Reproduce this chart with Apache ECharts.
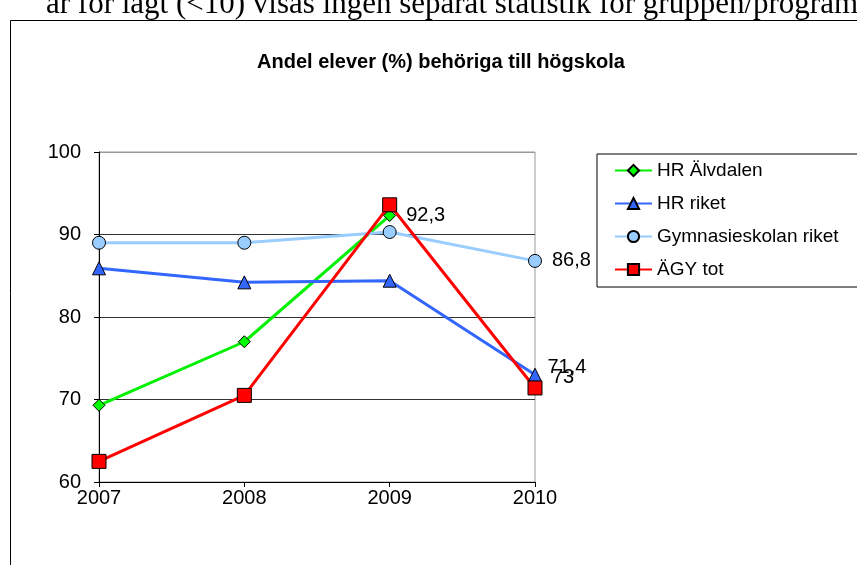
<!DOCTYPE html>
<html>
<head>
<meta charset="utf-8">
<script src="https://cdn.jsdelivr.net/npm/echarts@6/dist/echarts.min.js"></script>
<style>
  html, body { margin: 0; padding: 0; background: #fff; }
  #chart { width: 857px; height: 565px; }
</style>
</head>
<body>
<div id="chart"></div>
<script>
// data
const years = ['2007', '2008', '2009', '2010']
const hrAlvdalen = [69.3, 77.0, 92.3, null]
const hrRiket = [85.9, 84.2, 84.4, 73]
const gymnRiket = [89.0, 89.0, 90.3, 86.8]
const agyTot = [62.5, 70.5, 93.6, 71.4]
const yTicks = [60, 70, 80, 90, 100]

const FONT = '"Liberation Sans", Arial, sans-serif'

const chart = echarts.init(document.getElementById('chart'))

// only some points carry a data label in the original
const withLabels = (values, labelled, labelOpts) =>
  values.map((v, i) => {
    if (!labelled.includes(i)) return v
    return {
      value: v,
      label: Object.assign({
        show: true,
        position: 'right',
        distance: 10,
        color: '#000',
        fontFamily: FONT,
        fontSize: 20,
        formatter: p => String(p.value).replace('.', ',')
      }, labelOpts || {})
    }
  })

const lineSeries = (name, data, color, fill, symbol, size) => ({
  name,
  type: 'line',
  data,
  symbol,
  symbolSize: size,
  connectNulls: false,
  lineStyle: { color, width: 3 },
  itemStyle: { color: fill, borderColor: '#000', borderWidth: 1 },
  emphasis: { disabled: true },
  z: 3
})

const option = {
  animation: false,
  backgroundColor: '#fff',
  textStyle: { fontFamily: FONT },
  graphic: [
    {
      type: 'text',
      left: 46,
      top: -11,
      style: {
        text: 'ar för lågt (<10) visas ingen separat statistik för gruppen/programmet',
        font: '31px "Liberation Serif", "Times New Roman", serif',
        fill: '#000'
      }
    },
    {
      type: 'rect',
      shape: { x: 10.5, y: 20.5, width: 900, height: 600 },
      style: { fill: 'none', stroke: '#000', lineWidth: 1 },
      silent: true
    }
  ],
  title: {
    text: 'Andel elever (%) behöriga till högskola',
    left: 436,
    textAlign: 'center',
    top: 47,
    textStyle: { fontFamily: FONT, fontSize: 20, fontWeight: 'bold', color: '#000' }
  },
  legend: {
    orient: 'vertical',
    left: 597,
    top: 154,
    padding: [7, 40, 8, 17],
    itemWidth: 37,
    itemHeight: 14,
    itemGap: 14,
    borderColor: '#000',
    borderWidth: 1,
    backgroundColor: '#fff',
    textStyle: { fontFamily: FONT, fontSize: 19, color: '#000' },
    data: ['HR Älvdalen', 'HR riket', 'Gymnasieskolan riket', 'ÄGY tot']
  },
  grid: {
    left: 99,
    top: 152,
    right: 322,
    bottom: 83,
    show: true,
    borderColor: '#999',
    borderWidth: 1
  },
  xAxis: {
    type: 'category',
    boundaryGap: false,
    data: years,
    axisLine: { lineStyle: { color: '#000', width: 1 } },
    axisTick: { show: true, length: 5, lineStyle: { color: '#000' } },
    axisLabel: { color: '#000', fontFamily: FONT, fontSize: 20, margin: 6 },
    splitLine: { show: false }
  },
  yAxis: {
    type: 'value',
    min: yTicks[0],
    max: yTicks[yTicks.length - 1],
    interval: 10,
    axisLine: { show: true, lineStyle: { color: '#000', width: 1 } },
    axisTick: { show: true, length: 5, lineStyle: { color: '#000' } },
    axisLabel: { color: '#000', fontFamily: FONT, fontSize: 20, margin: 18 },
    splitLine: { show: true, lineStyle: { color: ['#000', '#333', '#333', '#333', '#999'] } }
  },
  series: [
    lineSeries('HR Älvdalen', withLabels(hrAlvdalen, [2]), '#00f000', '#00ff00', 'diamond', 12),
    lineSeries('HR riket', withLabels(hrRiket, [3], { offset: [0, 3] }), '#3366ff', '#3366ff', 'triangle', 13),
    lineSeries('Gymnasieskolan riket', withLabels(gymnRiket, [3]), '#99ccff', '#99ccff', 'circle', 13),
    lineSeries('ÄGY tot', withLabels(agyTot, [3], { offset: [-5, -20] }), '#ff0000', '#ff0000', 'rect', 14)
  ]
}

chart.setOption(option)
</script>
</body>
</html>
